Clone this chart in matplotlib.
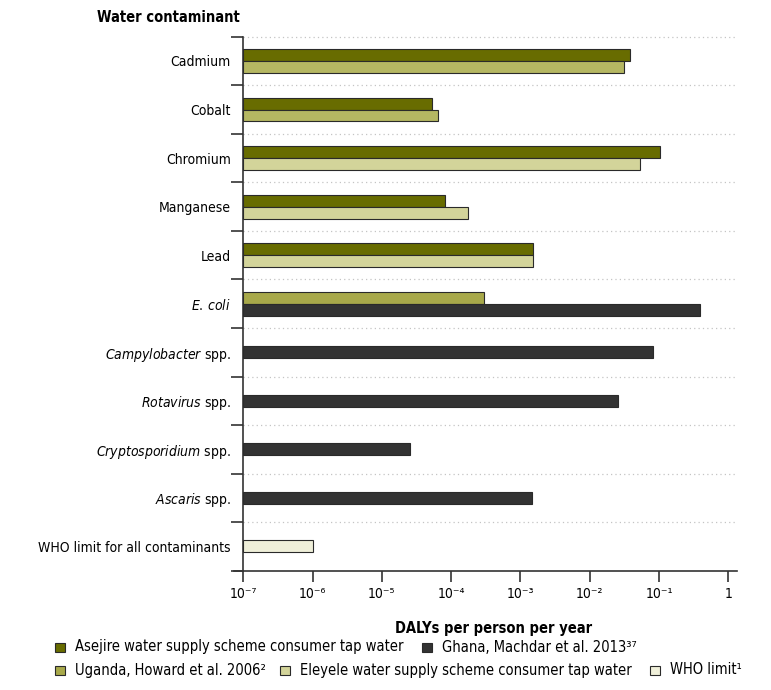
import numpy as np
import matplotlib.pyplot as plt
from matplotlib.patches import Rectangle

plt.rcParams['font.family'] = ['DejaVu Sans']
plt.rcParams['font.stretch'] = 'condensed'
plt.rcParams['mathtext.fontset'] = 'custom'
plt.rcParams['mathtext.rm'] = 'DejaVu Sans:stretch=condensed'
plt.rcParams['mathtext.it'] = 'DejaVu Sans:italic:stretch=condensed'
plt.rcParams['mathtext.bf'] = 'DejaVu Sans:bold:stretch=condensed'

# categories, top to bottom
contaminants = ['Cadmium', 'Cobalt', 'Chromium', 'Manganese', 'Lead',
                r'$\it{E.\,coli}$', r'$\it{Campylobacter}$ spp.', r'$\it{Rotavirus}$ spp.',
                r'$\it{Cryptosporidium}$ spp.', r'$\it{Ascaris}$ spp.',
                'WHO limit for all contaminants']

# DALYs per person per year (None = no bar)
asejire = [0.0385, 5.2e-5, 0.104, 8.2e-5, 1.53e-3, None, None, None, None, None, None]
eleyele = [0.0308, 6.5e-5, 0.0536, 1.73e-4, 1.53e-3, None, None, None, None, None, None]
uganda = [None, None, None, None, None, 2.94e-4, None, None, None, None, None]
ghana = [None, None, None, None, None, 0.385, 0.0807, 0.0252, 2.54e-5, 1.45e-3, None]
who = [None, None, None, None, None, None, None, None, None, None, 1e-6]

c_asejire = '#686c00'
c_uganda = '#a8a94a'
c_eleyele = '#d3d49a'
c_eleyele_row = ['#b5b762', '#b5b762', c_eleyele, c_eleyele, c_eleyele]
c_ghana = '#333333'
c_who = '#efefd9'

tick_labels = ['10\u207b\u2077', '10\u207b\u2076', '10\u207b\u2075', '10\u207b\u2074',
               '10\u207b\u00b3', '10\u207b\u00b2', '10\u207b\u00b9', '1']
tick_vals = [1e-7, 1e-6, 1e-5, 1e-4, 1e-3, 1e-2, 1e-1, 1]

W, H = 771, 690
fig = plt.figure(figsize=(W / 100, H / 100), dpi=100)
ax = fig.add_axes([243.3 / W, 1 - 570.7 / H, 493.4 / W, 534 / H])

n = len(contaminants)
bh = 0.245
xmin = 1e-7
edge = dict(edgecolor='#2a2a2a', linewidth=0.8)

for i in range(n):
    yc = n - 1 - i + 0.5
    series = []
    if asejire[i] is not None:
        series.append((asejire[i], c_asejire))
    if uganda[i] is not None:
        series.append((uganda[i], c_uganda))
    if eleyele[i] is not None:
        series.append((eleyele[i], c_eleyele_row[i]))
    if ghana[i] is not None:
        series.append((ghana[i], c_ghana))
    if who[i] is not None:
        series.append((who[i], c_who))
    k = len(series)
    for j, (v, c) in enumerate(series):
        y = yc + (k - 1) / 2 * bh - j * bh
        ax.barh(y, v - xmin, left=xmin, height=bh, color=c, **edge, zorder=3)

ax.set_xscale('log')
ax.set_xlim(1e-7, 10 ** 0.12)
ax.set_ylim(0, n)

# dotted separators between rows
for b in range(1, n + 1):
    ax.axhline(b, color='#c4c4c4', linestyle=(0, (1, 2.5)), linewidth=0.9, zorder=1, clip_on=False)

ax.set_yticks(np.arange(0, n + 1))
ax.set_yticklabels([])
ax.set_yticks(np.arange(n) + 0.5, minor=True)
ax.set_yticklabels(contaminants[::-1], minor=True, fontsize=10)
ax.tick_params(axis='y', which='major', length=9, width=1.2, color='#333333')
ax.tick_params(axis='y', which='minor', length=0, pad=9)

ax.set_xticks(tick_vals)
ax.set_xticklabels(tick_labels, fontsize=10)
ax.xaxis.set_minor_locator(plt.NullLocator())
ax.tick_params(axis='x', length=8, width=1.2, color='#333333', pad=4)

for s in ['top', 'right']:
    ax.spines[s].set_visible(False)
for s in ['left', 'bottom']:
    ax.spines[s].set_color('#333333')
    ax.spines[s].set_linewidth(1.2)
ax.plot([-0.019, 0], [0, 0], transform=ax.transAxes, color='#333333', lw=1.2, clip_on=False)

fig.text(240 / W, 1 - 18 / H, 'Water contaminant', ha='right', va='center',
         fontsize=10.5, fontweight='bold')
fig.text(494 / W, 1 - 629 / H, 'DALYs per person per year', ha='center', va='center',
         fontsize=10.5, fontweight='bold')

# legend, laid out by hand in two rows
legend_rows = [
    [(c_asejire, 'Asejire water supply scheme consumer tap water', 55),
     (c_ghana, 'Ghana, Machdar et al. 2013\u00b3\u2077', 422)],
    [(c_uganda, 'Uganda, Howard et al. 2006\u00b2', 55),
     (c_eleyele, 'Eleyele water supply scheme consumer tap water', 280),
     (c_who, 'WHO limit\u00b9', 650)],
]
for ypix, row in zip([647, 670], legend_rows):
    for color, label, xpix in row:
        fig.patches.append(Rectangle(((xpix) / W, 1 - (ypix + 4.5) / H), 10 / W, 9 / H,
                                     transform=fig.transFigure, facecolor=color,
                                     edgecolor='#2a2a2a', linewidth=0.8))
        fig.text((xpix + 20) / W, 1 - ypix / H, label, ha='left', va='center', fontsize=10.5)

fig.savefig('out.png', dpi=100)
